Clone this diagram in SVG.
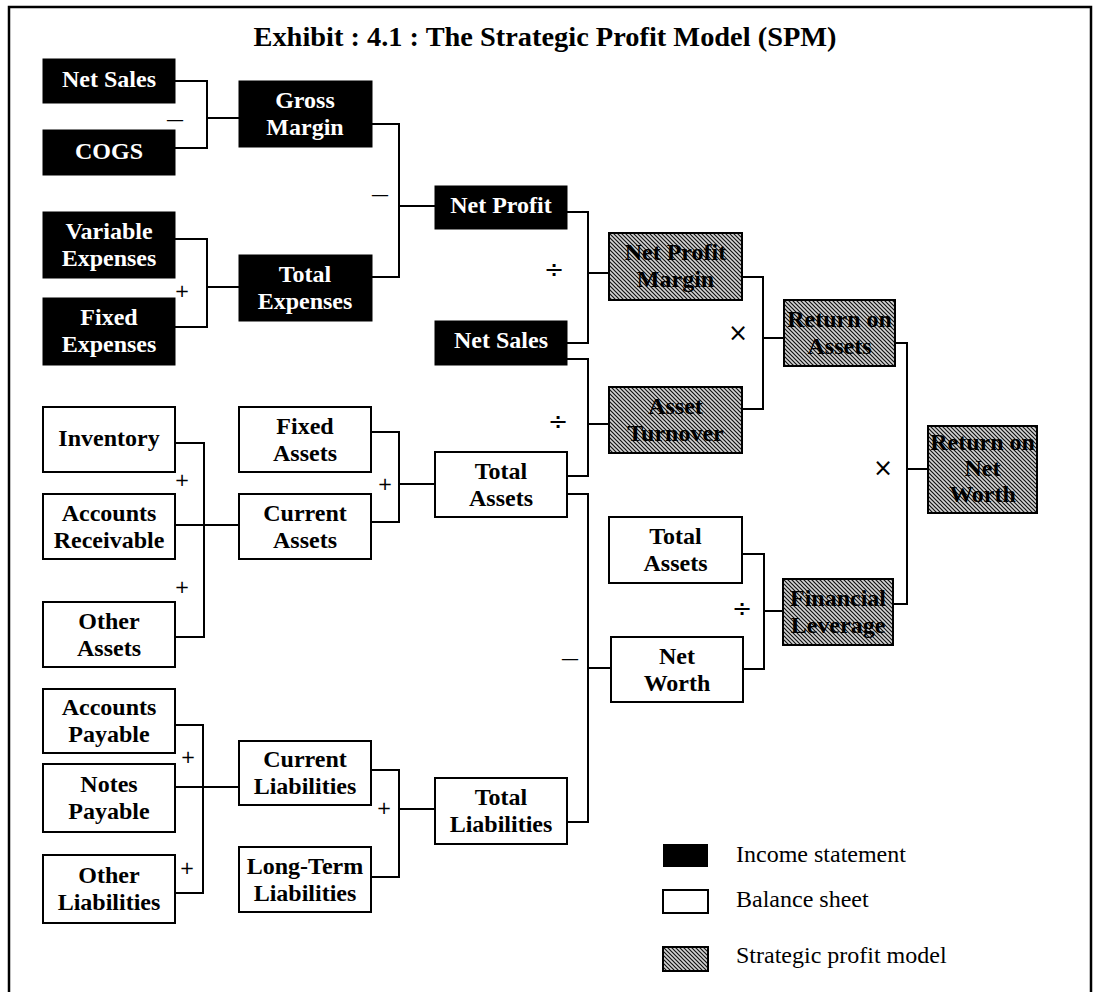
<svg xmlns="http://www.w3.org/2000/svg" width="1095" height="992" viewBox="0 0 1095 992">
<defs>
<pattern id="hatch" patternUnits="userSpaceOnUse" width="4" height="4">
<rect width="4" height="4" fill="#d4d4d4"/>
<path d="M-1,-1 L5,5 M-1,3 L1,5 M3,-1 L5,1" stroke="#111" stroke-width="1.2"/>
</pattern>
<style>
.blk{fill:#000;stroke:#000;stroke-width:1}
.wht{fill:#fff;stroke:#000;stroke-width:2}
.hat{fill:url(#hatch);stroke:#000;stroke-width:2}
.tw{font-family:"Liberation Serif",serif;font-weight:bold;font-size:24px;fill:#fff;text-anchor:middle}
.tb{font-family:"Liberation Serif",serif;font-weight:bold;font-size:24px;fill:#000;text-anchor:middle}
.conn{fill:none;stroke:#000;stroke-width:2}
.op{font-family:"DejaVu Sans",sans-serif;font-size:18px;fill:#000;text-anchor:middle;dominant-baseline:central}
.opb{font-family:"DejaVu Sans",sans-serif;font-size:24px;fill:#000;text-anchor:middle;dominant-baseline:central}
.leg{font-family:"Liberation Serif",serif;font-size:24px;fill:#000}
</style>
</defs>
<rect width="1095" height="992" fill="#fff"/>
<path d="M9,992 V7 H1091 V992" fill="none" stroke="#000" stroke-width="2.5"/>
<text x="545" y="46" text-anchor="middle" font-family="Liberation Serif, serif" font-weight="bold" font-size="27" textLength="583" lengthAdjust="spacingAndGlyphs">Exhibit : 4.1 : The Strategic Profit Model (SPM)</text>

<g id="connectors">
<path class="conn" d="M175,81 H207 V148 H175 M207,118 H239"/>
<path class="conn" d="M175,239 H207 V327 H175 M207,287 H239"/>
<path class="conn" d="M372,124 H399 V277 H372 M399,206 H435"/>
<path class="conn" d="M567,212 H588 V343 H567 M588,273 H609"/>
<path class="conn" d="M567,359 H588 V476 H567 M588,424 H609"/>
<path class="conn" d="M742,277 H763 V409 H742 M763,338 H784"/>
<path class="conn" d="M895,343 H907 V604 H893 M907,469 H928"/>
<path class="conn" d="M175,443 H204 V637 H175 M175,525 H239"/>
<path class="conn" d="M371,432 H399 V522 H371 M399,484 H435"/>
<path class="conn" d="M567,494 H588 V822 H567 M588,668 H611"/>
<path class="conn" d="M742,554 H764 V669 H743 M764,611 H783"/>
<path class="conn" d="M175,725 H203 V893 H175 M175,787 H239"/>
<path class="conn" d="M371,770 H399 V877 H371 M399,809 H435"/>
</g>

<g id="operators">
<text class="op" x="175" y="118">—</text>
<text class="op" x="182" y="290">+</text>
<text class="op" x="380" y="193">—</text>
<text class="opb" x="554" y="270">÷</text>
<text class="opb" x="558" y="422">÷</text>
<text class="opb" x="738" y="333">×</text>
<text class="opb" x="883" y="468">×</text>
<text class="op" x="182" y="479">+</text>
<text class="op" x="182" y="586">+</text>
<text class="op" x="385" y="483">+</text>
<text class="op" x="570" y="657">—</text>
<text class="opb" x="742" y="609">÷</text>
<text class="op" x="188" y="756">+</text>
<text class="op" x="187" y="867">+</text>
<text class="op" x="384" y="807">+</text>
</g>

<g id="net-sales-1"><rect class="blk" x="43" y="59" width="132" height="44"/><text class="tw" x="109" y="87">Net Sales</text></g>
<g id="cogs"><rect class="blk" x="43" y="130" width="132" height="45"/><text class="tw" x="109" y="159">COGS</text></g>
<g id="variable-expenses"><rect class="blk" x="43" y="212" width="132" height="66"/><text class="tw" x="109" y="239">Variable</text><text class="tw" x="109" y="266">Expenses</text></g>
<g id="fixed-expenses"><rect class="blk" x="43" y="298" width="132" height="67"/><text class="tw" x="109" y="325">Fixed</text><text class="tw" x="109" y="352">Expenses</text></g>
<g id="gross-margin"><rect class="blk" x="239" y="81" width="133" height="66"/><text class="tw" x="305" y="108">Gross</text><text class="tw" x="305" y="135">Margin</text></g>
<g id="total-expenses"><rect class="blk" x="239" y="255" width="133" height="66"/><text class="tw" x="305" y="282">Total</text><text class="tw" x="305" y="309">Expenses</text></g>
<g id="net-profit"><rect class="blk" x="435" y="186" width="132" height="43"/><text class="tw" x="501" y="213">Net Profit</text></g>
<g id="net-sales-2"><rect class="blk" x="435" y="321" width="132" height="44"/><text class="tw" x="501" y="348">Net Sales</text></g>

<g id="net-profit-margin"><rect class="hat" x="609" y="233" width="133" height="67"/><text class="tb" x="675.5" y="260">Net Profit</text><text class="tb" x="675.5" y="287">Margin</text></g>
<g id="asset-turnover"><rect class="hat" x="609" y="387" width="133" height="66"/><text class="tb" x="675.5" y="414">Asset</text><text class="tb" x="675.5" y="441">Turnover</text></g>
<g id="return-on-assets"><rect class="hat" x="784" y="300" width="111" height="66"/><text class="tb" x="839.5" y="327">Return on</text><text class="tb" x="839.5" y="354">Assets</text></g>
<g id="financial-leverage"><rect class="hat" x="783" y="579" width="110" height="66"/><text class="tb" x="838" y="606">Financial</text><text class="tb" x="838" y="633">Leverage</text></g>
<g id="return-on-net-worth"><rect class="hat" x="928" y="426" width="109" height="87"/><text class="tb" x="982.5" y="450">Return on</text><text class="tb" x="982.5" y="476">Net</text><text class="tb" x="982.5" y="502">Worth</text></g>

<g id="inventory"><rect class="wht" x="43" y="407" width="132" height="65"/><text class="tb" x="109" y="446">Inventory</text></g>
<g id="accounts-receivable"><rect class="wht" x="43" y="494" width="132" height="65"/><text class="tb" x="109" y="521">Accounts</text><text class="tb" x="109" y="548">Receivable</text></g>
<g id="other-assets"><rect class="wht" x="43" y="602" width="132" height="65"/><text class="tb" x="109" y="629">Other</text><text class="tb" x="109" y="656">Assets</text></g>
<g id="fixed-assets"><rect class="wht" x="239" y="407" width="132" height="65"/><text class="tb" x="305" y="434">Fixed</text><text class="tb" x="305" y="461">Assets</text></g>
<g id="current-assets"><rect class="wht" x="239" y="494" width="132" height="65"/><text class="tb" x="305" y="521">Current</text><text class="tb" x="305" y="548">Assets</text></g>
<g id="total-assets-1"><rect class="wht" x="435" y="452" width="132" height="65"/><text class="tb" x="501" y="479">Total</text><text class="tb" x="501" y="506">Assets</text></g>
<g id="total-assets-2"><rect class="wht" x="609" y="517" width="133" height="66"/><text class="tb" x="675.5" y="544">Total</text><text class="tb" x="675.5" y="571">Assets</text></g>
<g id="net-worth"><rect class="wht" x="611" y="637" width="132" height="65"/><text class="tb" x="677" y="664">Net</text><text class="tb" x="677" y="691">Worth</text></g>
<g id="accounts-payable"><rect class="wht" x="43" y="689" width="132" height="64"/><text class="tb" x="109" y="715">Accounts</text><text class="tb" x="109" y="742">Payable</text></g>
<g id="notes-payable"><rect class="wht" x="43" y="764" width="132" height="68"/><text class="tb" x="109" y="792">Notes</text><text class="tb" x="109" y="819">Payable</text></g>
<g id="other-liabilities"><rect class="wht" x="43" y="855" width="132" height="68"/><text class="tb" x="109" y="883">Other</text><text class="tb" x="109" y="910">Liabilities</text></g>
<g id="current-liabilities"><rect class="wht" x="239" y="741" width="132" height="64"/><text class="tb" x="305" y="767">Current</text><text class="tb" x="305" y="794">Liabilities</text></g>
<g id="long-term-liabilities"><rect class="wht" x="239" y="847" width="132" height="65"/><text class="tb" x="305" y="874">Long-Term</text><text class="tb" x="305" y="901">Liabilities</text></g>
<g id="total-liabilities"><rect class="wht" x="435" y="778" width="132" height="66"/><text class="tb" x="501" y="805">Total</text><text class="tb" x="501" y="832">Liabilities</text></g>

<g id="legend">
<rect x="663" y="844" width="45" height="23" fill="#000"/>
<text class="leg" x="736" y="862">Income statement</text>
<rect x="663" y="890" width="45" height="23" fill="#fff" stroke="#000" stroke-width="2"/>
<text class="leg" x="736" y="907">Balance sheet</text>
<rect x="663" y="947" width="45" height="24" fill="url(#hatch)" stroke="#000" stroke-width="2"/>
<text class="leg" x="736" y="963">Strategic profit model</text>
</g>
</svg>
